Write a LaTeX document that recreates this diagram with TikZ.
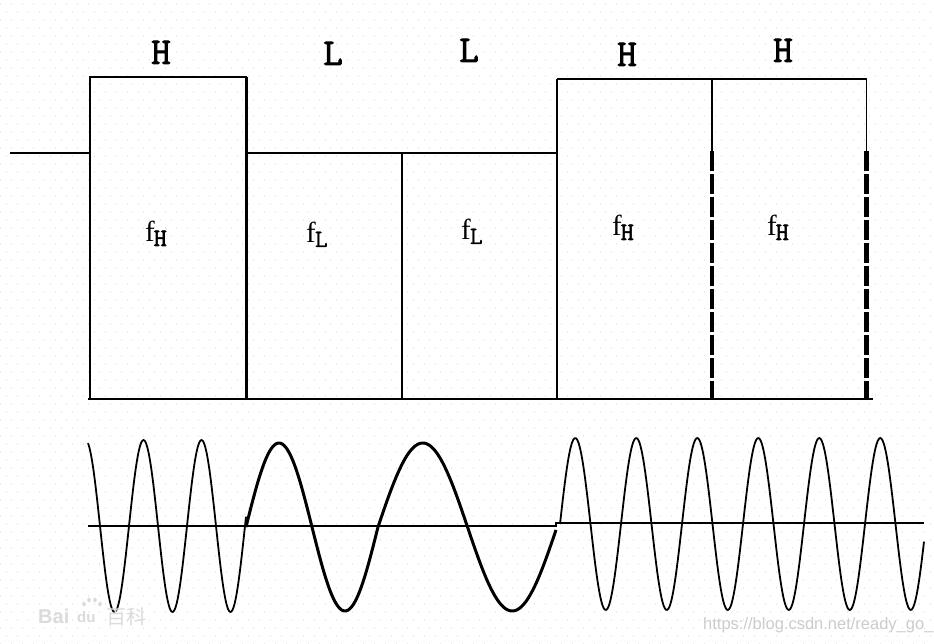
\documentclass[tikz,border=0pt]{standalone}
\usepackage{fontspec}
\setmainfont{Liberation Serif}
\newfontfamily\courfnt{Latin Modern Mono}[FakeBold=2.5]
\newfontfamily\courlt{Latin Modern Mono}[FakeBold=1]
\newfontfamily\sansfnt{Liberation Sans}
\newfontfamily\cjkfnt{Noto Sans CJK SC}
\newcommand{\fsubH}{{\fontsize{29}{29}\selectfont f}\kern-1pt\raisebox{-4pt}{\courfnt\fontsize{25}{25}\selectfont H}}
\newcommand{\fsubL}{{\fontsize{29}{29}\selectfont f}\kern-1pt\raisebox{-4pt}{\courlt\fontsize{25}{25}\selectfont L}}
\begin{document}
\begin{tikzpicture}[x=1pt,y=-1pt,
  thinln/.style={line width=1.6pt,black},
  thickln/.style={line width=2.6pt,black},
  dashln/.style={line width=3.4pt,black,dash pattern=on 20pt off 3pt},
  dashthk/.style={line width=4.4pt,black,dash pattern=on 20pt off 3pt},
  toplbl/.style={anchor=base,inner sep=0pt,font=\courfnt\fontsize{38}{38}\selectfont},
  flbl/.style={anchor=base west,inner sep=0pt},
  wavehi/.style={line width=1.8pt,black,line join=round},
  wavelo/.style={line width=3pt,black,line join=round},
  axisln/.style={line width=2.8pt,black},
  wmark/.style={anchor=base west,inner sep=0pt,text=gray!28}]
\useasboundingbox (0,0) rectangle (934,644);
\fill[white] (0,0) rectangle (934,644);
% faint dotted background
\foreach \r in {4,12,...,644}{
  \pgfmathtruncatemacro{\odd}{mod((\r-4)/8,2)}
  \ifnum\odd=0
    \draw[gray!16,line width=1.2pt,dash pattern=on 1.2pt off 9.8pt] (0,\r) -- (934,\r);
  \else
    \draw[gray!16,line width=1.2pt,dash pattern=on 1.2pt off 9.8pt] (5.5,\r) -- (934,\r);
  \fi
}
% coordinates
\coordinate (s0) at (10,153);
\coordinate (h1bl) at (90,399);
\coordinate (h1tl) at (90,77);
\coordinate (h1tr) at (246.5,77);
\coordinate (h1br) at (246.5,399);
\coordinate (l1t) at (246.5,153);
\coordinate (d1t) at (402,153);
\coordinate (d1b) at (402,399);
\coordinate (l2r) at (557,153);
\coordinate (h2tl) at (557,79);
\coordinate (h2bl) at (557,399);
\coordinate (d2t) at (712,79);
\coordinate (d2m) at (712,151);
\coordinate (d2b) at (712,399);
\coordinate (h3tr) at (866.5,79);
\coordinate (h3m) at (866.5,151);
\coordinate (h3br) at (866.5,399);
\coordinate (bl) at (88,399);
\coordinate (br) at (873,399);
% signal levels
\draw[thinln] (s0) -- (90,153);
\draw[thickln] (h1bl) -- (h1tl) -- (h1tr);
\draw[line width=3.2pt] (h1tr) -- (h1br);
\draw[thinln] (l1t) -- (l2r);
\draw[thinln] (d1t) -- (d1b);
\draw[thinln] (h2bl) -- (h2tl);
\draw[thickln] (h2tl) -- (h3tr);
\draw[thinln] (d2t) -- (d2m);
\draw[dashln] (d2m) -- (d2b);
\draw[thinln] (h3tr) -- (h3m);
\draw[dashthk] (h3m) -- (h3br);
\draw[thickln] (bl) -- (br);
% top labels
\node[toplbl] (tH1) at (161,64) {H};
\node[toplbl] (tL1) at (333,65) {L};
\node[toplbl] (tL2) at (469,62) {L};
\node[toplbl] (tH2) at (627,66) {H};
\node[toplbl] (tH3) at (783,62) {H};
% frequency labels
\node[flbl] (fH1) at (145,242) {\fsubH};
\node[flbl] (fL1) at (306,243) {\fsubL};
\node[flbl] (fL2) at (461,240) {\fsubL};
\node[flbl] (fH2) at (612,236) {\fsubH};
\node[flbl] (fH3) at (767,236) {\fsubH};
% waveform
\coordinate (axl) at (88,526);
\coordinate (axm) at (556,526);
\coordinate (axm2) at (556,523);
\coordinate (axr) at (924,523);
\draw[axisln] (axl) -- (axm) -- (axm2) -- (axr);
\draw[wavehi] plot[domain=88:246,samples=140,smooth] (\x,{526-86*sin(360/58*(\x-245))});
\draw[wavelo] plot[domain=246:378,samples=80,smooth] (\x,{527-84*sin(360/132*(\x-246))});
\draw[wavelo] plot[domain=378:556,samples=100,smooth] (\x,{527-84*sin(360/179*(\x-378))});
\draw[wavehi] plot[domain=560:924,samples=300,smooth] (\x,{524-86*sin(360/61*(\x-560))});
% watermarks
\node[wmark,font=\sansfnt\bfseries\fontsize{20}{20}\selectfont] (wm1) at (38,623) {Bai};
\node[wmark,font=\sansfnt\bfseries\fontsize{15}{15}\selectfont] (wm2) at (77,622) {du};
\foreach \px/\py in {84/604,89/600,95/600,100/604}{
  \fill[gray!28] (\px,\py) ellipse (1.8pt and 2.4pt);
}
\node[wmark,font=\cjkfnt\fontsize{20}{20}\selectfont] (wm3) at (106,624) {百科};
\node[wmark,font=\sansfnt\fontsize{16.5}{16.5}\selectfont,text=gray!40] (wm4) at (703,629) {https://blog.csdn.net/ready\_go\_};
\end{tikzpicture}
\end{document}
